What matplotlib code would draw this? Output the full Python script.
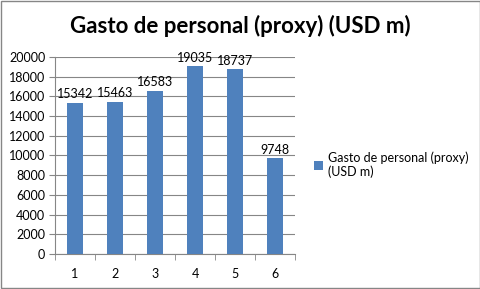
import matplotlib.pyplot as plt
from matplotlib.patches import Rectangle

categorias = ['1', '2', '3', '4', '5', '6']
valores = [15342, 15463, 16583, 19035, 18737, 9748]
titulo = 'Gasto de personal (proxy) (USD m)'
serie = 'Gasto de personal (proxy)\n(USD m)'

azul = '#4F81BD'
plt.rcParams['font.family'] = ['Lato', 'DejaVu Sans']

fig = plt.figure(figsize=(4.81, 2.89), dpi=100)
ax = fig.add_axes([0.1143, 0.121, 0.499, 0.682])

pos = list(range(len(categorias)))
barras = ax.bar(pos, valores, width=0.4, color=azul, zorder=3, label=serie)
for x, v in zip(pos, valores):
    ax.text(x, v + 250, str(v), ha='center', va='bottom', fontsize=9, zorder=4)

ax.set_xlim(-0.5, len(categorias) - 0.5)
ax.set_ylim(0, 20000)
ax.set_yticks(range(0, 20001, 2000))
ax.grid(axis='y', color='#868686', linewidth=0.8, zorder=0)
ax.set_xticks(pos)
ax.set_xticklabels(categorias)
ax.set_xticks([p - 0.5 for p in pos] + [len(categorias) - 0.5], minor=True)
ax.tick_params(axis='x', which='major', length=0, pad=10, labelsize=9)
ax.tick_params(axis='x', which='minor', length=4, color='#868686', direction='out')
ax.tick_params(axis='y', length=4, color='#868686', labelsize=9, pad=3)

for lado in ['top', 'right']:
    ax.spines[lado].set_visible(False)
ax.spines['left'].set_color('#868686')
ax.spines['bottom'].set_color('#868686')

fig.text(0.5, 0.91, titulo, ha='center', va='center', fontsize=16, fontweight='bold')

fig.legend(handles=[barras], loc='center left', bbox_to_anchor=(0.63, 0.43),
           frameon=False, fontsize=9, handlelength=0.7, handleheight=0.7,
           handletextpad=0.4, labelspacing=0.2)

fig.patches.append(Rectangle((0.002, 0.003), 0.995, 0.993, transform=fig.transFigure,
                             fill=False, edgecolor='#868686', linewidth=1))

fig.savefig('out.png', dpi=100)
